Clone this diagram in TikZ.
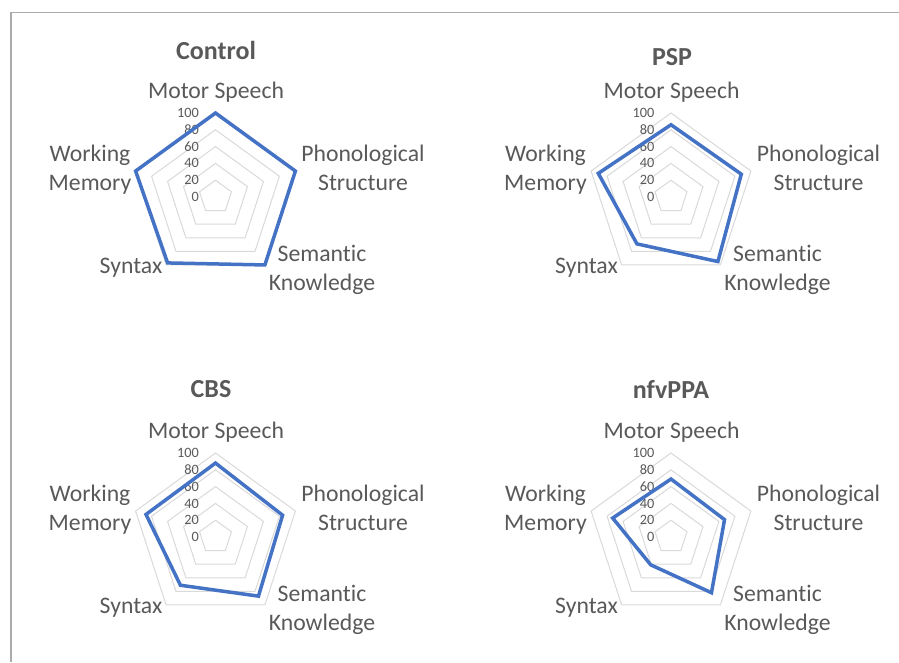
\documentclass[tikz,border=0pt]{standalone}
\usepackage{fontspec}
\setmainfont{Carlito}[Ligatures=NoCommon]
\usepackage{tikz}
\usetikzlibrary{positioning}
\definecolor{labgray}{HTML}{595959}
\definecolor{gridgray}{HTML}{D9D9D9}
\definecolor{serblue}{HTML}{4472C4}
\definecolor{framegray}{HTML}{ABABAB}
\tikzset{
chart_t/.style = {font=\fontsize{26}{30}\selectfont\bfseries, text=labgray, anchor=base, inner sep=0pt},% chart title
axis_l/.style = {font=\fontsize{23.7}{29}\selectfont, text=labgray, align=center, anchor=base, inner sep=0pt},% axis name
tick_l/.style = {font=\fontsize{14.3}{16}\selectfont, text=labgray, anchor=east, inner sep=0pt},% scale value
grid_r/.style = {draw=gridgray, line width=1pt},% grid ring
series/.style = {draw=serblue, line width=3.5pt}% data line
}
% #1 name, #2 centre, #3 title position, #4 title, #5 five values
\newcommand{\radar}[5]{%
  \begin{scope}[shift={#2}]
    \coordinate (#1) at (0,0);
    \node[chart_t] (#1-title) at #3 {#4};
    \foreach \r in {20,40,...,100}
      \draw[grid_r] (-90:\r*0.84) \foreach \k in {1,...,4}{ -- (-90+72*\k:\r*0.84)} -- cycle;
    \foreach \t in {0,20,...,100}
      \node[tick_l] (#1-t\t) at (-16.5,-\t*0.84) {\t};
    \foreach \v [count=\k from 0] in {#5}
      \coordinate (#1-v\k) at (-90+72*\k:\v*0.84);
    \draw[series] (#1-v0) -- (#1-v1) -- (#1-v2) -- (#1-v3) -- (#1-v4) -- cycle;
    \node[axis_l] (#1-ms) at (0.5,-98.4) {Motor Speech};
    \node[axis_l] (#1-ps) at (147.5,-6.5) {Phonological\\Structure};
    \node[axis_l] (#1-sk) at (106.5,93) {Semantic\\Knowledge};
    \node[axis_l] (#1-sy) at (-84.5,76.5) {Syntax};
    \node[axis_l] (#1-wm) at (-125.5,-6.5) {Working\\Memory};
  \end{scope}}
\begin{document}
\begin{tikzpicture}[x=1pt, y=-1pt]
  \useasboundingbox (0,0) rectangle (899,662);
  \draw[framegray, line width=1.5pt] (899,12.5) -- (11,12.5) -- (11,662);
  \radar{ctl}{(215.5,197)}{(0.5,-138)}{Control}{100,100,100,97,100}
  \radar{psp}{(671,197)}{(1,-132)}{PSP}{86,88,95,69,91}
  \radar{cbs}{(215.5,537)}{(-4.5,-140)}{CBS}{88,84,87,71,87}
  \radar{nfv}{(671,537)}{(0,-139)}{nfvPPA}{69,67,82,41,73}
\end{tikzpicture}
\end{document}
